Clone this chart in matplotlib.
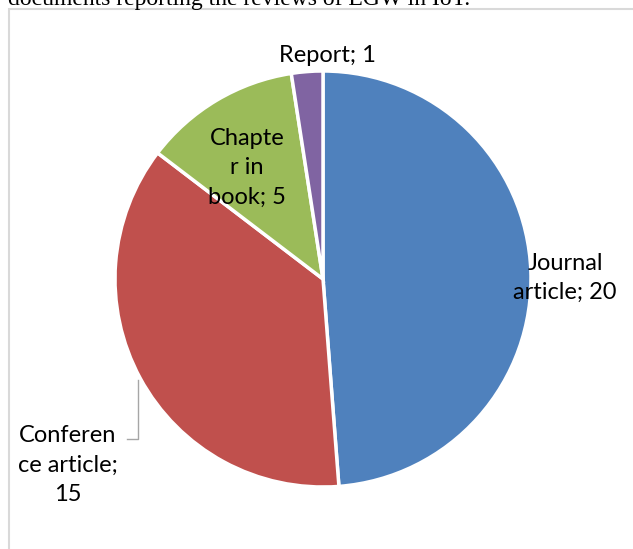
import matplotlib.pyplot as plt
from matplotlib.patches import Rectangle

categories = ["Journal article", "Conference article", "Chapter in book", "Report"]
counts = [20, 15, 5, 1]
colors = ["#4F81BD", "#C0504D", "#9BBB59", "#8064A2"]
label_text = ["Journal\narticle; 20", "Conferen\nce article;\n15", "Chapte\nr in\nbook; 5", "Report; 1"]

W, H = 633, 549
fig = plt.figure(figsize=(W / 100, H / 100), dpi=100)
ax = fig.add_axes([0, 0, 1, 1])

# chart frame (cut off on right and bottom)
ax.add_patch(Rectangle((9, -20), W + 20, H - 9 + 20, fill=False,
                       edgecolor="#D9D9D9", linewidth=1.5))

ax.pie(counts, colors=colors, startangle=90, counterclock=False,
       center=(323, H - 279), radius=208,
       wedgeprops=dict(edgecolor="white", linewidth=2.5), frame=True)
ax.set_xlim(0, W)
ax.set_ylim(0, H)
ax.set_aspect("equal")
ax.axis("off")

font = dict(family="Lato", fontsize=17, color="black", ha="center", va="center",
            linespacing=1.5)
pos = [(565, 278), (68, 465), (247, 168), (327, 56)]
for t, (x, y) in zip(label_text, pos):
    ax.text(x, H - y, t, **font)

# leader line for the conference label
ax.plot([127, 138, 138], [H - 439, H - 439, H - 380], color="#A6A6A6", linewidth=1)

# caption text from the document, cut by the top edge
ax.text(8, H - 5, "documents reporting the reviews of EGW in IoT.",
        family="Liberation Serif", fontsize=17, ha="left", va="baseline")

fig.savefig("out.png", dpi=100)
